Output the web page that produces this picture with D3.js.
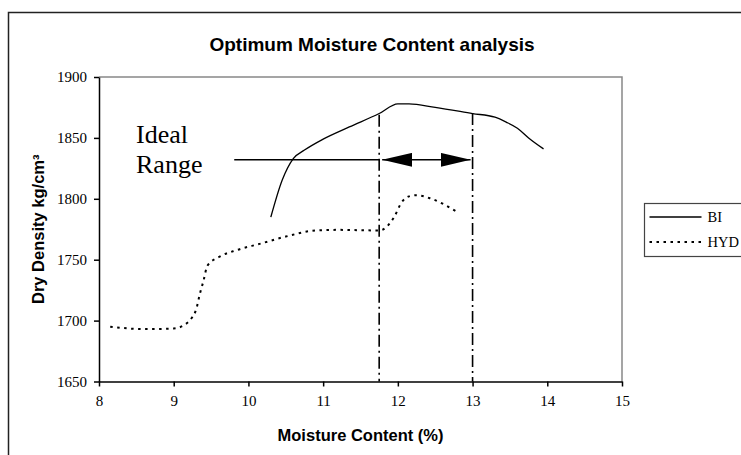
<!DOCTYPE html>
<html lang="en">
<head>
<meta charset="UTF-8">
<title>Optimum Moisture Content analysis</title>
<style>
  body { margin: 0; background: #fff; }
  svg { display: block; }
</style>
</head>
<body>
<svg width="741" height="455"></svg>
<script src="https://d3js.org/d3.v7.min.js"></script>
<script>
// series
const biX = [10.3, 10.45, 10.6, 10.75, 11.0, 11.35, 11.75, 12.0, 12.15, 12.5, 13.0, 13.3, 13.45, 13.6, 13.75, 13.95];
const biY = [1785, 1815, 1833, 1840, 1849, 1859, 1870, 1878, 1878, 1875, 1870, 1867, 1863, 1858, 1850, 1841];

const hydX = [8.15, 8.6, 9.0, 9.13, 9.25, 9.3, 9.35, 9.4, 9.45, 9.6, 9.85, 10.15, 10.5, 10.9, 11.2, 11.75, 11.85, 11.95, 12.05, 12.15, 12.25, 12.45, 12.8];
const hydY = [1695, 1693, 1693.5, 1696, 1703, 1709, 1722, 1733, 1745, 1752, 1758, 1763, 1769, 1774, 1774.5, 1774, 1777, 1785, 1797, 1802, 1803, 1800, 1789];

const xTicks = [8, 9, 10, 11, 12, 13, 14, 15];
const yTicks = [1650, 1700, 1750, 1800, 1850, 1900];

// ideal range annotation
const rangeLow = 11.75, rangeHigh = 13.0;
const rangeTopLow = 1869, rangeTopHigh = 1870.5;
const pointerStart = 9.81, pointerY = 1832;

const seriesNames = ["BI", "HYD"];

const plot = { left: 99, right: 622, top: 77, bottom: 381.5 };
const serif = "'Liberation Serif', 'Times New Roman', serif";
const sans = "'Liberation Sans', Arial, sans-serif";

const svg = d3.select("svg");

// outer chart frame (runs off the picture on the right and bottom)
svg.append("rect")
  .attr("x", 8.5).attr("y", 12.5)
  .attr("width", 760).attr("height", 470)
  .attr("fill", "none").attr("stroke", "#222").attr("stroke-width", 1.5);

const x = d3.scaleLinear().domain([8, 15]).range([plot.left, plot.right]);
const y = d3.scaleLinear().domain([1650, 1900]).range([plot.bottom, plot.top]);

// grey frame of the plot area (top and right)
svg.append("path")
  .attr("d", `M${plot.left},${plot.top}H${plot.right}V${plot.bottom}`)
  .attr("fill", "none").attr("stroke", "#888").attr("stroke-width", 1.5);

function styleAxis(g) {
  g.selectAll("line, .domain").attr("stroke", "#000").attr("stroke-width", 1.5);
  g.selectAll("text")
    .attr("font-family", serif).attr("font-size", 15).attr("fill", "#000");
}

svg.append("g")
  .attr("transform", `translate(0,${plot.bottom})`)
  .call(d3.axisBottom(x).tickValues(xTicks).tickFormat(d3.format("d"))
    .tickSize(5).tickSizeOuter(0).tickPadding(9))
  .call(styleAxis);

svg.append("g")
  .attr("transform", `translate(${plot.left},0)`)
  .call(d3.axisLeft(y).tickValues(yTicks).tickFormat(d3.format("d"))
    .tickSize(5).tickSizeOuter(0).tickPadding(7))
  .call(styleAxis);

const line = d3.line().x(d => x(d[0])).y(d => y(d[1])).curve(d3.curveMonotoneX);

const bi = biX.map((v, i) => [v, biY[i]]);
const hyd = hydX.map((v, i) => [v, hydY[i]]);

svg.append("path")
  .datum(bi)
  .attr("d", line)
  .attr("fill", "none").attr("stroke", "#000").attr("stroke-width", 1.3);

svg.append("path")
  .datum(hyd)
  .attr("d", line)
  .attr("fill", "none").attr("stroke", "#000").attr("stroke-width", 2)
  .attr("stroke-dasharray", "2.5,4.5");

// dash-dot verticals marking the range
svg.selectAll(".range-line")
  .data([[rangeLow, rangeTopLow], [rangeHigh, rangeTopHigh]])
  .join("line")
  .attr("class", "range-line")
  .attr("x1", d => x(d[0])).attr("x2", d => x(d[0]))
  .attr("y1", d => y(d[1])).attr("y2", y(1650))
  .attr("stroke", "#000").attr("stroke-width", 1.6)
  .attr("stroke-dasharray", "12,4,2,4");

// pointer line from the label
svg.append("line")
  .attr("x1", x(pointerStart)).attr("x2", x(rangeLow))
  .attr("y1", y(pointerY)).attr("y2", y(pointerY))
  .attr("stroke", "#000").attr("stroke-width", 1.6);

// double arrow between the verticals
const defs = svg.append("defs");
defs.append("marker")
  .attr("id", "head")
  .attr("viewBox", "0 0 30 14")
  .attr("refX", 30).attr("refY", 7)
  .attr("markerWidth", 30).attr("markerHeight", 14)
  .attr("markerUnits", "userSpaceOnUse")
  .attr("orient", "auto-start-reverse")
  .append("path").attr("d", "M0,0L30,7L0,14Z").attr("fill", "#000");

svg.append("line")
  .attr("x1", x(rangeLow) + 3).attr("x2", x(rangeHigh) - 2)
  .attr("y1", y(pointerY)).attr("y2", y(pointerY))
  .attr("stroke", "#000").attr("stroke-width", 1.6)
  .attr("marker-start", "url(#head)")
  .attr("marker-end", "url(#head)");

const ideal = svg.append("text")
  .attr("font-family", serif)
  .attr("font-size", 26);
ideal.append("tspan").attr("x", 136).attr("y", 143).text("Ideal");
ideal.append("tspan").attr("x", 136).attr("y", 173).text("Range");

// titles
svg.append("text")
  .attr("x", 372).attr("y", 51)
  .attr("text-anchor", "middle")
  .attr("font-family", sans)
  .attr("font-weight", "bold").attr("font-size", 19)
  .text("Optimum Moisture Content analysis");

svg.append("text")
  .attr("x", (plot.left + plot.right) / 2).attr("y", 441)
  .attr("text-anchor", "middle")
  .attr("font-family", sans)
  .attr("font-weight", "bold").attr("font-size", 16.5)
  .text("Moisture Content (%)");

svg.append("text")
  .attr("transform", `translate(44,${(plot.top + plot.bottom) / 2}) rotate(-90)`)
  .attr("text-anchor", "middle")
  .attr("font-family", sans)
  .attr("font-weight", "bold").attr("font-size", 16.5)
  .text("Dry Density kg/cm³");

// legend
const legend = svg.append("g").attr("transform", "translate(644.5,203.5)");
legend.append("rect")
  .attr("width", 110).attr("height", 53)
  .attr("fill", "#fff").attr("stroke", "#444").attr("stroke-width", 1.2);

const items = legend.selectAll(".item")
  .data(seriesNames)
  .join("g")
  .attr("class", "item")
  .attr("transform", (d, i) => `translate(0,${13.5 + i * 25})`);

items.append("line")
  .attr("x1", 5).attr("x2", 57)
  .attr("stroke", "#000")
  .attr("stroke-width", (d, i) => i ? 2 : 1.3)
  .attr("stroke-dasharray", (d, i) => i ? "2.5,4.5" : null);

items.append("text")
  .attr("x", 63).attr("dy", "0.35em")
  .attr("font-family", serif)
  .attr("font-size", 14.5)
  .text(d => d);
</script>
</body>
</html>
